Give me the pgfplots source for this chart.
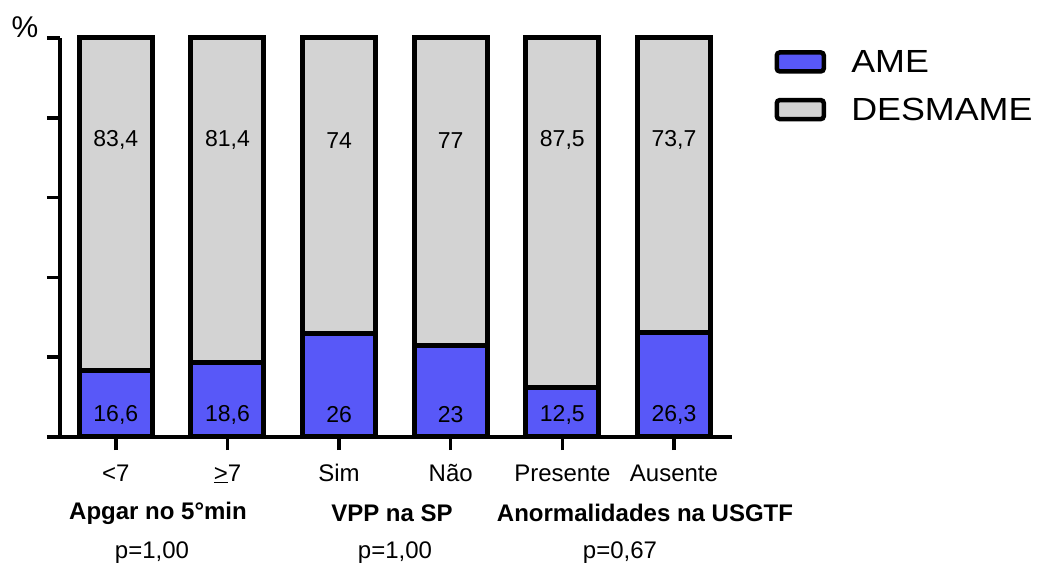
\documentclass[border=0pt]{standalone}
\usepackage{fontspec}
\setmainfont{Liberation Sans}
\usepackage{pgfplots}
\pgfplotsset{compat=1.18}
\definecolor{ame}{RGB}{88,88,248}
\definecolor{des}{RGB}{211,211,211}
\begin{document}
\begin{tikzpicture}[x=1pt,y=1pt,font=\fontsize{23}{27}\selectfont]
\useasboundingbox (0,0) rectangle (1038,570);
\begin{axis}[
  at={(60pt,133pt)}, anchor=south west,
  scale only axis, width=672pt, height=399pt,
  ybar stacked, bar width=73pt,
  xmin=-0.5, xmax=5.52, ymin=0, ymax=100,
  axis x line*=bottom, axis y line*=left,
  axis line style={line width=3.5pt, black},
  clip=false,
  xtick={0,...,5},
  xticklabels={{<7},{\underline{>}7},Sim,Não,Presente,Ausente},
  ytick={0,20,...,100}, yticklabels={},
  tick align=outside, major tick length=13pt,
  tick style={line width=3.5pt, black},
  xticklabel style={font=\fontsize{24}{28}\selectfont, yshift=-11pt},
  legend style={at={(1.063,0.975)}, anchor=north west, draw=none, fill=none,
    font=\fontsize{32}{36}\selectfont, row sep=20pt, inner sep=0pt,
    nodes={inner sep=2pt}},
  legend cell align=left,
  legend image code/.code={\draw[#1, line width=4.5pt, rounded corners=3pt] (0pt,-9.5pt) rectangle (47pt,9.5pt); \path (70pt,0pt);},
]
\addplot[fill=ame, draw=black, line width=5pt] coordinates {(0,16.6) (1,18.6) (2,26) (3,23) (4,12.5) (5,26.3)};
\addplot[fill=des, draw=black, line width=5pt] coordinates {(0,83.4) (1,81.4) (2,74) (3,77) (4,87.5) (5,73.7)};
\legend{\scalebox{1.12}[1]{AME}, \scalebox{1.12}[1]{DESMAME}}
\coordinate (t0) at (axis cs:0,74.4);
\coordinate (t1) at (axis cs:1,74.4);
\coordinate (t2) at (axis cs:2,74.4);
\coordinate (t3) at (axis cs:3,74.4);
\coordinate (t4) at (axis cs:4,74.4);
\coordinate (t5) at (axis cs:5,74.4);
\coordinate (b0) at (axis cs:0,5.5);
\coordinate (b1) at (axis cs:1,5.5);
\coordinate (b2) at (axis cs:2,5.5);
\coordinate (b3) at (axis cs:3,5.5);
\coordinate (b4) at (axis cs:4,5.5);
\coordinate (b5) at (axis cs:5,5.5);
\end{axis}
\node at (t0) {83,4};
\node at (t1) {81,4};
\node at (t2) {74};
\node at (t3) {77};
\node at (t4) {87,5};
\node at (t5) {73,7};
\node at (b0) {16,6};
\node at (b1) {18,6};
\node at (b2) {26};
\node at (b3) {23};
\node at (b4) {12,5};
\node at (b5) {26,3};
\node at (25,543) {\fontsize{30}{34}\selectfont \%};
\node at (158,57) {\fontsize{24}{28}\selectfont\bfseries Apgar no 5°min};
\node at (392,57) {\fontsize{24}{28}\selectfont\bfseries VPP na SP};
\node at (645,57) {\fontsize{24}{28}\selectfont\bfseries Anormalidades na USGTF};
\node at (152,17) {\fontsize{24}{28}\selectfont p=1,00};
\node at (395,17) {\fontsize{24}{28}\selectfont p=1,00};
\node at (620,17) {\fontsize{24}{28}\selectfont p=0,67};
\end{tikzpicture}
\end{document}
